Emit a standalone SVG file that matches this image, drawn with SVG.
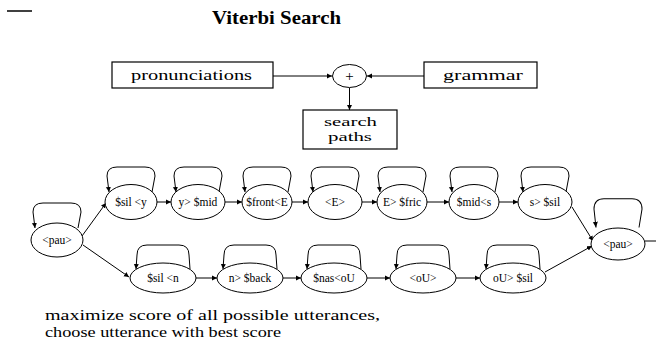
<svg xmlns="http://www.w3.org/2000/svg" xmlns:xlink="http://www.w3.org/1999/xlink" width="656" height="345" viewBox="0 0 656 345">
<style>
  .box { fill: #fff; stroke: #000; stroke-width: 1.2; }
  .st { fill: #fff; stroke: #000; stroke-width: 1; }
  .edge { fill: none; stroke: #000; stroke-width: 1; }
  .lbl { font-family: "Liberation Serif", "Times New Roman", serif; font-size: 15px; fill: #000; }
  .sp { font-family: "Liberation Serif", "Times New Roman", serif; font-size: 13px; fill: #000; }
  .nl { font-family: "Liberation Serif", "Times New Roman", serif; font-size: 11.5px; fill: #000; text-anchor: middle; }
  .title { font-family: "Liberation Serif", "Times New Roman", serif; font-size: 18px; font-weight: bold; fill: #000; }
</style>
<defs>
  <marker id="ah" markerWidth="6" markerHeight="6" refX="5" refY="3" orient="auto" markerUnits="userSpaceOnUse">
    <path d="M0,0.5 L5,3 L0,5.5 Z" fill="#000"/>
  </marker>
  <path id="loopT" class="edge" d="M21,-10 L24,-26 Q24,-35 14,-35 L-14,-35 Q-24,-35 -24,-26 L-22,-10" marker-end="url(#ah)"/>
  <path id="loopB" class="edge" d="M27,-9 L26,-23 Q26,-33 16,-33 L-16,-33 Q-26,-33 -26,-23 L-27,-9" marker-end="url(#ah)"/>
</defs>
<rect width="656" height="345" fill="#fff"/>
<line x1="7" y1="11" x2="32" y2="11" stroke="#000" stroke-width="1.5"/>
<text class="title" x="212" y="24" textLength="129" lengthAdjust="spacingAndGlyphs">Viterbi Search</text>

<g id="connectors">
  <line class="edge" x1="273" y1="76" x2="332" y2="76" marker-end="url(#ah)"/>
  <line class="edge" x1="424" y1="76" x2="367" y2="76" marker-end="url(#ah)"/>
  <line class="edge" x1="349.5" y1="88" x2="349.5" y2="110" stroke-width="2" marker-end="url(#ah)"/>
  <line class="edge" x1="157" y1="202" x2="171" y2="202" marker-end="url(#ah)"/>
  <line class="edge" x1="225" y1="202" x2="242" y2="202" marker-end="url(#ah)"/>
  <line class="edge" x1="292" y1="202" x2="308" y2="202" marker-end="url(#ah)"/>
  <line class="edge" x1="362" y1="202" x2="377" y2="202" marker-end="url(#ah)"/>
  <line class="edge" x1="427" y1="202" x2="449" y2="202" marker-end="url(#ah)"/>
  <line class="edge" x1="499" y1="202" x2="518" y2="202" marker-end="url(#ah)"/>
  <line class="edge" x1="196" y1="278" x2="217" y2="278" marker-end="url(#ah)"/>
  <line class="edge" x1="283" y1="278" x2="301" y2="278" marker-end="url(#ah)"/>
  <line class="edge" x1="367" y1="278" x2="390" y2="278" marker-end="url(#ah)"/>
  <line class="edge" x1="456" y1="278" x2="480" y2="278" marker-end="url(#ah)"/>
  <line class="edge" x1="82" y1="236" x2="106" y2="203" marker-end="url(#ah)"/>
  <line class="edge" x1="83" y1="245" x2="129" y2="277" marker-end="url(#ah)"/>
  <line class="edge" x1="572" y1="207" x2="593" y2="241" marker-end="url(#ah)"/>
  <line class="edge" x1="545" y1="272" x2="592" y2="246" marker-end="url(#ah)"/>
  <line class="edge" x1="645" y1="241" x2="656" y2="241"/>
</g>

<g id="pronunciations">
  <rect class="box" x="112" y="62" width="161" height="26"/>
  <text class="lbl" x="131" y="80" textLength="121" lengthAdjust="spacingAndGlyphs">pronunciations</text>
</g>
<g id="plus">
  <ellipse class="st" cx="349.5" cy="76" rx="17" ry="11.5"/>
  <text class="lbl" x="349.5" y="81" text-anchor="middle" font-size="16">+</text>
</g>
<g id="grammar">
  <rect class="box" x="424" y="62" width="113" height="26"/>
  <text class="lbl" x="443" y="80" textLength="80" lengthAdjust="spacingAndGlyphs">grammar</text>
</g>
<g id="search-paths">
  <rect class="box" x="303" y="110" width="94" height="39"/>
  <text class="sp" x="324" y="126" textLength="53" lengthAdjust="spacingAndGlyphs">search</text>
  <text class="sp" x="328" y="141" textLength="44" lengthAdjust="spacingAndGlyphs">paths</text>
</g>

<g id="pau-start">
  <use xlink:href="#loopT" href="#loopT" transform="translate(57,238)"/>
  <ellipse class="st" cx="57" cy="240" rx="26" ry="17"/>
  <text class="nl" x="57" y="244">&lt;pau&gt;</text>
</g>
<g id="n1">
  <use href="#loopT" xlink:href="#loopT" transform="translate(131,202)"/>
  <ellipse class="st" cx="131" cy="202" rx="26" ry="17.5"/>
  <text class="nl" x="131" y="206">$sil &lt;y</text>
</g>
<g id="n2">
  <use href="#loopT" xlink:href="#loopT" transform="translate(198,202)"/>
  <ellipse class="st" cx="198" cy="202" rx="27" ry="17.5"/>
  <text class="nl" x="198" y="206">y&gt; $mid</text>
</g>
<g id="n3">
  <use href="#loopT" xlink:href="#loopT" transform="translate(267,202)"/>
  <ellipse class="st" cx="267" cy="202" rx="25" ry="17.5"/>
  <text class="nl" x="267" y="206">$front&lt;E</text>
</g>
<g id="n4">
  <use href="#loopT" xlink:href="#loopT" transform="translate(335,202)"/>
  <ellipse class="st" cx="335" cy="202" rx="27" ry="17.5"/>
  <text class="nl" x="335" y="206">&lt;E&gt;</text>
</g>
<g id="n5">
  <use href="#loopT" xlink:href="#loopT" transform="translate(402,202)"/>
  <ellipse class="st" cx="402" cy="202" rx="25" ry="17.5"/>
  <text class="nl" x="402" y="206">E&gt; $fric</text>
</g>
<g id="n6">
  <use href="#loopT" xlink:href="#loopT" transform="translate(474,202)"/>
  <ellipse class="st" cx="474" cy="202" rx="25" ry="17.5"/>
  <text class="nl" x="474" y="206">$mid&lt;s</text>
</g>
<g id="n7">
  <use href="#loopT" xlink:href="#loopT" transform="translate(545,202)"/>
  <ellipse class="st" cx="545" cy="202" rx="27" ry="17.5"/>
  <text class="nl" x="545" y="206">s&gt; $sil</text>
</g>
<g id="m1">
  <use href="#loopB" xlink:href="#loopB" transform="translate(163,278)"/>
  <ellipse class="st" cx="163" cy="278" rx="33" ry="15"/>
  <text class="nl" x="163" y="282">$sil &lt;n</text>
</g>
<g id="m2">
  <use href="#loopB" xlink:href="#loopB" transform="translate(250,278)"/>
  <ellipse class="st" cx="250" cy="278" rx="33" ry="15"/>
  <text class="nl" x="250" y="282">n&gt; $back</text>
</g>
<g id="m3">
  <use href="#loopB" xlink:href="#loopB" transform="translate(334,278)"/>
  <ellipse class="st" cx="334" cy="278" rx="33" ry="15"/>
  <text class="nl" x="334" y="282">$nas&lt;oU</text>
</g>
<g id="m4">
  <use href="#loopB" xlink:href="#loopB" transform="translate(423,278)"/>
  <ellipse class="st" cx="423" cy="278" rx="33" ry="15"/>
  <text class="nl" x="423" y="282">&lt;oU&gt;</text>
</g>
<g id="m5">
  <use href="#loopB" xlink:href="#loopB" transform="translate(513,278)"/>
  <ellipse class="st" cx="513" cy="278" rx="33" ry="15"/>
  <text class="nl" x="513" y="282">oU&gt; $sil</text>
</g>
<g id="pau-end">
  <use href="#loopT" xlink:href="#loopT" transform="translate(618,239) scale(1,1.15)"/>
  <ellipse class="st" cx="618" cy="244" rx="27" ry="16"/>
  <text class="nl" x="618" y="248">&lt;pau&gt;</text>
</g>

<text class="lbl" x="45" y="320" textLength="335" lengthAdjust="spacingAndGlyphs">maximize score of all possible utterances,</text>
<text class="lbl" x="45" y="337" textLength="236" lengthAdjust="spacingAndGlyphs">choose utterance with best score</text>
</svg>
